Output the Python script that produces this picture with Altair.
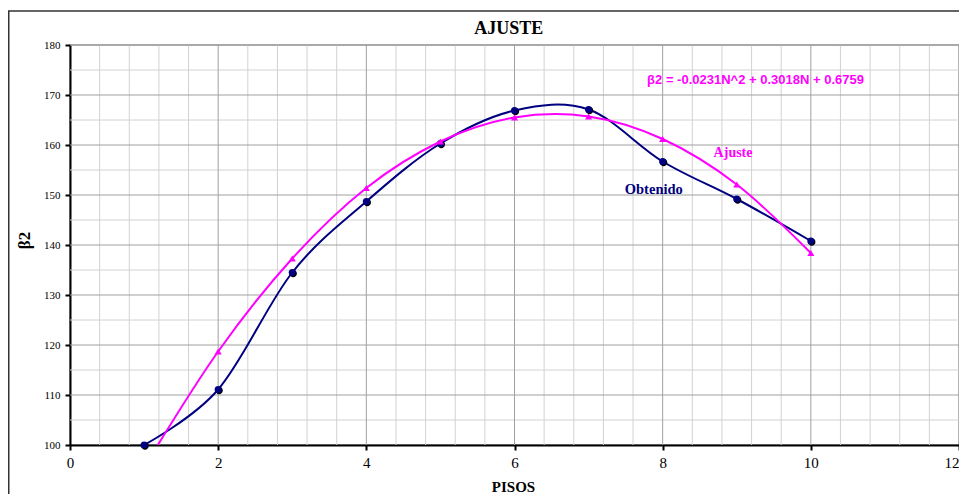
import altair as alt
import pandas as pd

# ---- data ----
pisos = [1, 2, 3, 4, 5, 6, 7, 8, 9, 10]
obtenido = [100.0, 111.1, 134.5, 148.7, 160.3, 166.9, 167.1, 156.7, 149.2, 140.8]
ajuste = [95.5, 118.7, 137.3, 151.4, 160.7, 165.5, 165.7, 161.2, 152.1, 138.4]

x_ticks = [0, 2, 4, 6, 8, 10, 12]
y_ticks = [100, 110, 120, 130, 140, 150, 160, 170, 180]
x_minor = [round(i * 0.4, 1) for i in range(1, 30) if i % 5 != 0]
y_minor = [105, 115, 125, 135, 145, 155, 165, 175]
x_major = [2, 4, 6, 8, 10]
y_major = [110, 120, 130, 140, 150, 160, 170, 180]

chart_title = "AJUSTE"
equation = "β2 = -0.0231N^2 + 0.3018N + 0.6759"

df = pd.DataFrame({"pisos": pisos, "obtenido": obtenido, "ajuste": ajuste})

SERIF = "Liberation Serif"
SANS = "Liberation Sans"
NAVY = "#000080"
MAG = "#FF00FF"

x_scale = alt.Scale(domain=[0, 12], nice=False, zero=False)
y_scale = alt.Scale(domain=[100, 180], nice=False, zero=False)

x_axis = alt.Axis(values=x_ticks, grid=False, labelFont=SERIF, labelFontSize=15,
                  labelPadding=5, labelFlush=False, labelColor="black",
                  labelAlign=alt.expr("datum.value >= 12 ? 'right' : 'center'"),
                  title="PISOS", titleFont=SERIF, titleFontSize=15, titleFontWeight="bold",
                  titleColor="black", titleX=443, titleY=41, titleBaseline="middle",
                  titleAlign="center")
y_axis = alt.Axis(values=y_ticks, grid=False, labelFont=SERIF, labelFontSize=11,
                  labelPadding=5, labelColor="black",
                  title="β2", titleFont=SERIF, titleFontSize=17, titleFontWeight="bold",
                  titleColor="black", titleX=-46, titleY=195, titleBaseline="middle",
                  titleAlign="center", titleAngle=270)


def X(field):
    return alt.X(f"{field}:Q", scale=x_scale, axis=x_axis, title="PISOS")


def Y(field):
    return alt.Y(f"{field}:Q", scale=y_scale, axis=y_axis, title="β2")


one = pd.DataFrame({"a": [0]})

border = alt.Chart(one).mark_rect(
    fillOpacity=0, stroke="#333333", strokeWidth=1.5, clip=False
).encode(x=alt.value(-61.25), x2=alt.value(1000), y=alt.value(-34), y2=alt.value(700))

title_txt = alt.Chart(one).mark_text(
    text=chart_title, font=SERIF, fontSize=18, fontWeight="bold", color="black",
    align="center", baseline="middle"
).encode(x=alt.value(438.7), y=alt.value(-16.5))

minor_x = alt.Chart(pd.DataFrame({"gx": x_minor})).mark_rule(color="#d2d2d2", strokeWidth=1).encode(x=X("gx"))
minor_y = alt.Chart(pd.DataFrame({"gy": y_minor})).mark_rule(color="#d2d2d2", strokeWidth=1).encode(y=Y("gy"))
major_x = alt.Chart(pd.DataFrame({"gx": x_major})).mark_rule(color="#a0a0a0", strokeWidth=1).encode(x=X("gx"))
major_y = alt.Chart(pd.DataFrame({"gy": y_major})).mark_rule(color="#a0a0a0", strokeWidth=1).encode(y=Y("gy"))

base = alt.Chart(df)
line_obt = base.mark_line(color=NAVY, strokeWidth=2, interpolate="cardinal").encode(x=X("pisos"), y=Y("obtenido"))
shadow_path = "M 1.25 0.25 A 1 1 0 1 1 -0.75 0.25 A 1 1 0 1 1 1.25 0.25 Z"
pts_shadow = base.mark_point(shape=shadow_path, filled=True, color="black", size=55, opacity=1).encode(
    x=X("pisos"), y=Y("obtenido"))
pts_obt = base.mark_point(shape="circle", filled=True, color=NAVY, size=50, opacity=1).encode(
    x=X("pisos"), y=Y("obtenido"))

line_aj = base.mark_line(color=MAG, strokeWidth=2, interpolate="cardinal", clip=True).encode(
    x=X("pisos"), y=Y("ajuste"))
pts_aj = base.mark_point(shape="triangle-up", filled=True, color=MAG, size=50, opacity=1, clip=True).encode(
    x=X("pisos"), y=Y("ajuste"))


def label(text, xv, yv, **kw):
    return alt.Chart(one).mark_text(text=text, **kw).encode(
        x=alt.XDatum(xv, type="quantitative", scale=x_scale, axis=x_axis),
        y=alt.YDatum(yv, type="quantitative", scale=y_scale, axis=y_axis),
    )


eq_txt = label(equation, 7.79, 173, font=SANS, fontSize=13, fontWeight="bold", color=MAG,
               align="left", baseline="middle")
aj_txt = label("Ajuste", 8.95, 158.4, font=SERIF, fontSize=14, fontWeight="bold", color=MAG,
               align="center", baseline="middle")
ob_txt = label("Obtenido", 7.88, 151, font=SERIF, fontSize=14.5, fontWeight="bold", color=NAVY,
               align="center", baseline="middle")

chart = alt.layer(
    border, title_txt, minor_x, minor_y, major_x, major_y,
    line_obt, pts_shadow, pts_obt, line_aj, pts_aj,
    eq_txt, aj_txt, ob_txt,
).properties(
    width=889, height=400,
    autosize=alt.AutoSizeParams(type="none"),
    padding={"left": 62, "top": 37, "right": 0, "bottom": 49},
).configure_view(
    stroke="#999999", strokeWidth=1.5
).configure_axis(
    domainColor="black", domainWidth=2, tickColor="black", tickWidth=2, tickSize=5
)

chart.save("out.html", embed_options={"renderer": "svg", "actions": False})
